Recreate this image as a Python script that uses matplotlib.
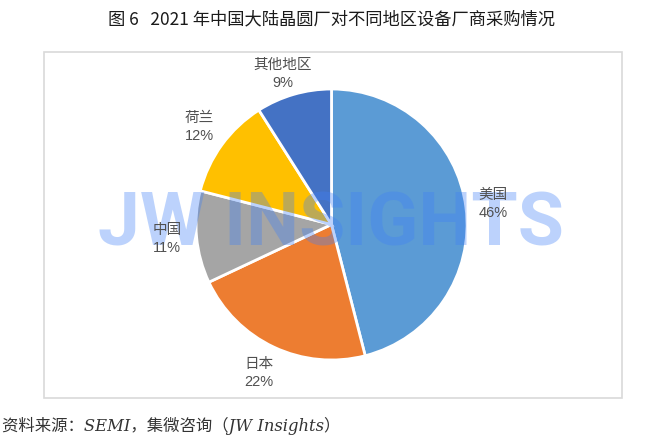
import matplotlib
matplotlib.use("Agg")
import matplotlib.pyplot as plt
from matplotlib.patches import Rectangle

W, H = 660, 441
LABEL_FONT = ['Liberation Sans', 'Noto Sans CJK SC']
SERIF_FONT = ['DejaVu Serif', 'Noto Sans CJK SC']

categories = ['美国', '日本', '中国', '荷兰', '其他地区']
values = [46, 22, 11, 12, 9]
pct_labels = ['46%', '22%', '11%', '12%', '9%']
colors = ['#5B9BD5', '#ED7D31', '#A5A5A5', '#FFC000', '#4472C4']
title = '图 6   2021 年中国大陆晶圆厂对不同地区设备厂商采购情况'
source = '资料来源：SEMI，集微咨询（JW Insights）'
watermark = 'JW INSIGHTS'

fig = plt.figure(figsize=(W / 100, H / 100), dpi=100)
bg = fig.add_axes([0, 0, 1, 1])
bg.set_xlim(0, W); bg.set_ylim(H, 0); bg.axis('off')
bg.add_patch(Rectangle((44, 52), 578, 346, fill=False, ec='#D9D9D9', lw=1.2))

cx, cy, R = 331.5, 224.5, 135.5
ax = fig.add_axes([(cx - R) / W, 1 - (cy + R) / H, 2 * R / W, 2 * R / H])
ax.pie(values, colors=colors, startangle=90, counterclock=False, radius=1,
       wedgeprops=dict(edgecolor='white', linewidth=2))
ax.set_xlim(-1, 1); ax.set_ylim(-1, 1)

label_pos = [(493, 204), (259, 373), (167, 239), (199, 127), (283, 74)]
top = fig.add_axes([0, 0, 1, 1], facecolor='none')
top.set_xlim(0, W); top.set_ylim(H, 0); top.axis('off')
top.text(331, 245, watermark, ha='center', va='baseline', fontsize=54,
         family='Roboto', weight='bold',
         color=(0.25, 0.5, 0.97), alpha=0.35)
for c, p, (x, y) in zip(categories, pct_labels, label_pos):
    top.text(x, y, c + '\n' + p, ha='center', va='center', fontsize=10.5,
             color='#505050', family=LABEL_FONT, linespacing=1.35)

top.text(332, 19, title, ha='center', va='center', fontsize=12.45,
         family=['Noto Sans CJK SC', 'DejaVu Sans'], color='#1a1a1a')
top.text(2, 426, source, ha='left', va='center', fontsize=11.8, family=SERIF_FONT,
         style='italic', color='#333333')
fig.savefig('out.png', dpi=100, facecolor='white')
